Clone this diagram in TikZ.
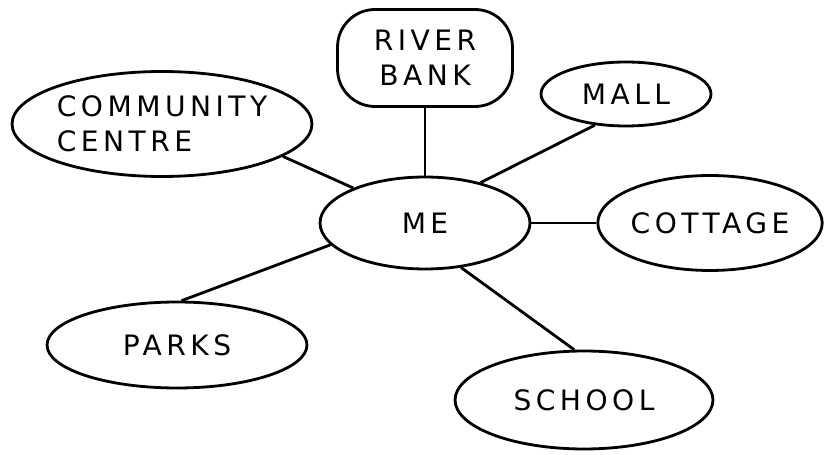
\documentclass[tikz,border=0pt]{standalone}
\usepackage{fontspec}
\setmainfont{DejaVu Sans}[LetterSpace=16]
\usepackage{tikz}
\usetikzlibrary{shapes.geometric}
\tikzset{every picture/.append style={font=\fontsize{16}{20}\selectfont}}

\begin{document}
\begin{tikzpicture}[x=0.02cm,y=-0.02cm,line width=1.6pt,
    place/.style={draw,ellipse,align=center,inner sep=0pt}]
    \useasboundingbox (0,0) rectangle (824,455);
    % centre bubble
    \node[place,minimum width=4.2cm,minimum height=1.84cm] (me) at (425,223) {ME};
    % places round it
    \node[place,align=left,minimum width=6.0cm,minimum height=2.1cm] (centre) at (162,124) {COMMUNITY\\CENTRE};
    \node[draw,rounded corners=0.75cm,align=center,minimum width=3.5cm,minimum height=1.94cm] (river) at (425,58) {RIVER\\BANK};
    \node[place,minimum width=3.4cm,minimum height=1.28cm] (mall) at (626,94) {MALL};
    \node[place,minimum width=4.2cm,minimum height=1.9cm] (cottage) at (710,223) {COTTAGE};
    \node[place,minimum width=5.2cm,minimum height=1.72cm] (parks) at (177,345) {PARKS};
    \node[place,minimum width=5.16cm,minimum height=1.96cm] (school) at (584,400) {SCHOOL};
    % spokes
    \foreach \a/\b in {centre.-15/me.154, river.south/me.north, mall.225/me.36,
                       cottage.west/me.east, parks.84/me.193, school.101/me.309} {
      \draw (\a) -- (\b);
    }
\end{tikzpicture}
\end{document}
